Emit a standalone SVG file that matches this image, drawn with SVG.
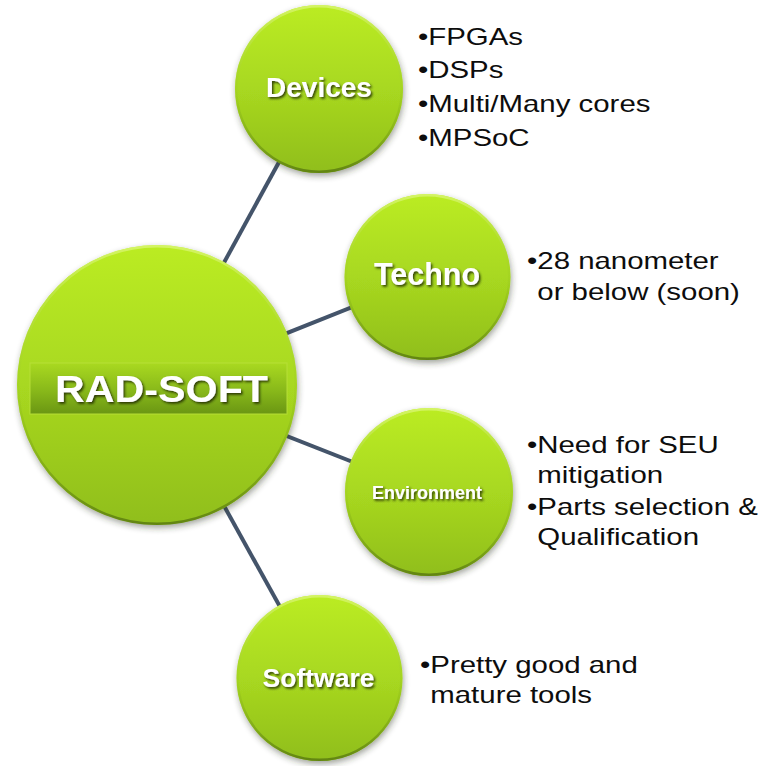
<svg xmlns="http://www.w3.org/2000/svg" width="772" height="766" viewBox="0 0 772 766">
  <defs>
    <!-- glossy lime ball -->
    <linearGradient id="ballFill" x1="0" y1="0" x2="0" y2="1">
      <stop offset="0" stop-color="#bbec24"/>
      <stop offset="0.5" stop-color="#a8d820"/>
      <stop offset="1" stop-color="#90be1b"/>
    </linearGradient>
    <linearGradient id="ballRim" x1="0" y1="0" x2="0" y2="1">
      <stop offset="0" stop-color="#d6f56a" stop-opacity="0.9"/>
      <stop offset="0.5" stop-color="#9ccc1e" stop-opacity="0.3"/>
      <stop offset="1" stop-color="#5d7f10" stop-opacity="0.9"/>
    </linearGradient>
    <linearGradient id="bannerFill" x1="0" y1="0" x2="0" y2="1">
      <stop offset="0" stop-color="#a9d920"/>
      <stop offset="0.55" stop-color="#88b81a"/>
      <stop offset="1" stop-color="#6a9613"/>
    </linearGradient>
    <filter id="ballShadow" x="-20%" y="-20%" width="140%" height="145%">
      <feDropShadow dx="1" dy="3" stdDeviation="3" flood-color="#2b3320" flood-opacity="0.45"/>
    </filter>
    <filter id="textShadow" x="-10%" y="-30%" width="125%" height="170%">
      <feDropShadow dx="1.6" dy="1.8" stdDeviation="1.1" flood-color="#1f2a05" flood-opacity="0.85"/>
    </filter>
  </defs>
  <style>
    .ball { fill: url(#ballFill); filter: url(#ballShadow); }
    .rim { fill: none; stroke: url(#ballRim); stroke-width: 2.5; }
    .label { font-family: "Liberation Sans", Arial, sans-serif; font-weight: bold; fill: #ffffff; text-anchor: middle; filter: url(#textShadow); }
    .note { font-family: "Liberation Sans", Arial, sans-serif; font-size: 24px; fill: #0d0d0d; }
    .link { stroke: #44546a; stroke-width: 4; fill: none; }
  </style>

  <rect width="772" height="766" fill="#ffffff"/>

  <!-- spokes from the hub to each topic -->
  <g id="connectors">
    <line class="link" x1="157" y1="385" x2="319" y2="89"/>
    <line class="link" x1="157" y1="385" x2="427.5" y2="277"/>
    <line class="link" x1="157" y1="385" x2="429" y2="492"/>
    <line class="link" x1="157" y1="385" x2="319.5" y2="678"/>
  </g>

  <!-- hub -->
  <g id="rad-soft">
    <circle class="ball" cx="157" cy="385" r="140"/>
    <circle class="rim" cx="157" cy="385" r="138.8"/>
    <rect x="30" y="363" width="257" height="51" fill="url(#bannerFill)" stroke="#b8e03a" stroke-opacity="0.8" stroke-width="1.2"/>
    <text class="label" x="161.5" y="402" font-size="36.5" textLength="213" lengthAdjust="spacingAndGlyphs">RAD-SOFT</text>
  </g>

  <g id="devices">
    <circle class="ball" cx="319" cy="89" r="84"/>
    <circle class="rim" cx="319" cy="89" r="82.8"/>
    <text class="label" x="319" y="97" font-size="28">Devices</text>
    <text class="note" transform="translate(418,0) scale(1.225,1)">
      <tspan x="0" y="45">•FPGAs</tspan>
      <tspan x="0" y="78.5">•DSPs</tspan>
      <tspan x="0" y="112">•Multi/Many cores</tspan>
      <tspan x="0" y="146">•MPSoC</tspan>
    </text>
  </g>

  <g id="techno">
    <circle class="ball" cx="427.5" cy="277" r="83"/>
    <circle class="rim" cx="427.5" cy="277" r="81.8"/>
    <text class="label" x="427" y="285" font-size="30.5">Techno</text>
    <text class="note" transform="translate(527,0) scale(1.225,1)">
      <tspan x="0" y="269">•28 nanometer</tspan>
      <tspan x="8.4" y="300">or below (soon)</tspan>
    </text>
  </g>

  <g id="environment">
    <circle class="ball" cx="429" cy="492" r="84"/>
    <circle class="rim" cx="429" cy="492" r="82.8"/>
    <text class="label" x="427" y="499" font-size="18">Environment</text>
    <text class="note" transform="translate(527,0) scale(1.225,1)">
      <tspan x="0" y="453">•Need for SEU</tspan>
      <tspan x="8.4" y="483">mitigation</tspan>
      <tspan x="0" y="515">•Parts selection &amp;</tspan>
      <tspan x="8.4" y="545">Qualification</tspan>
    </text>
  </g>

  <g id="software">
    <circle class="ball" cx="319.5" cy="678" r="83"/>
    <circle class="rim" cx="319.5" cy="678" r="81.8"/>
    <text class="label" x="318.5" y="687" font-size="26.5">Software</text>
    <text class="note" transform="translate(420,0) scale(1.225,1)">
      <tspan x="0" y="673">•Pretty good and</tspan>
      <tspan x="8.4" y="703">mature tools</tspan>
    </text>
  </g>
</svg>
